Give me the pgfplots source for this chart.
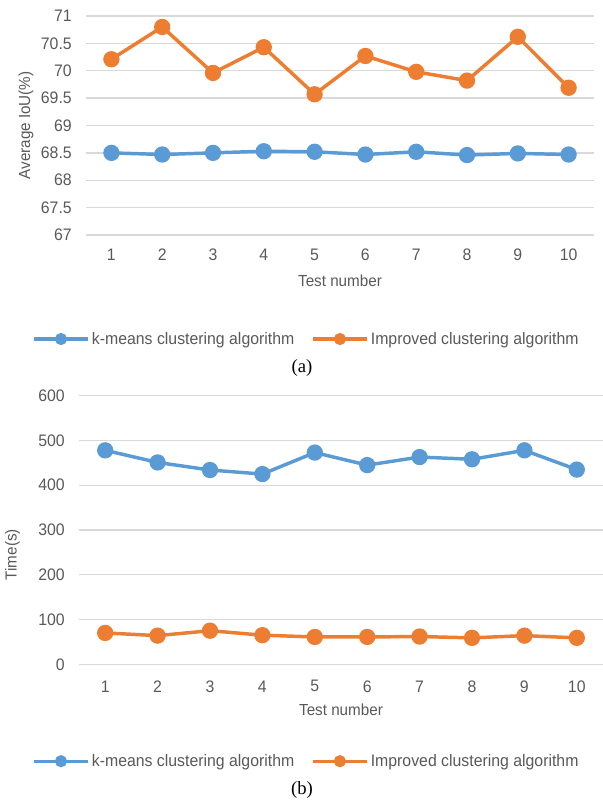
\documentclass[border=0pt]{standalone}
\usepackage{pgfplots}
\pgfplotsset{compat=1.18}
\usepackage{fontspec}
\setmainfont[FakeStretch=0.95]{Liberation Sans}
\newfontfamily\seriffont{Liberation Serif}
\definecolor{kblue}{HTML}{5B9BD5}
\definecolor{korange}{HTML}{ED7D31}
\definecolor{txtgray}{HTML}{595959}
\definecolor{gridgray}{HTML}{D9D9D9}
\pgfplotstableread{
x   km     imp
1   68.50  70.21
2   68.47  70.80
3   68.50  69.96
4   68.53  70.43
5   68.52  69.57
6   68.47  70.27
7   68.52  69.98
8   68.46  69.82
9   68.49  70.62
10  68.47  69.69
}\ioudata
\pgfplotstableread{
x   km    imp
1   478   70
2   451   64
3   434   75
4   425   65
5   473   61
6   445   61
7   463   62
8   458   59
9   478   64
10  435   59
}\timedata
\pgfplotsset{
  mystyle/.style={
    scale only axis,
    clip=false,
    xmin=0.5, xmax=10.5,
    xtick={1,2,...,10},
    axis line style={draw=none},
    major tick length=0pt,
    ymajorgrids,
    grid style={gridgray, line width=1pt},
    /pgf/number format/assume math mode=true,
    tick label style={font=\fontsize{12.5}{14}\selectfont, text=txtgray},
    label style={font=\fontsize{12}{14}\selectfont, text=txtgray},
    yticklabel style={anchor=east, inner sep=0pt, xshift=-10.5pt},
    xticklabel style={anchor=center, inner sep=0pt},
    legend columns=2,
    legend cell align=left,
    legend style={draw=none, fill=none, font=\fontsize{12.5}{14}\selectfont, text=txtgray,
      /tikz/every even column/.append style={column sep=11pt}},
    legend image code/.code={
      \draw[##1, mark=none, line width=2.4pt] (0pt,0pt) -- (40pt,0pt);
      \fill[##1] (20pt,0pt) circle (3.2pt);
    },
  },
  myplot/.style={line width=2.6pt, mark=*, mark size=4.8pt, mark options={solid}},
}
\begin{document}
\begin{tikzpicture}
\path[use as bounding box] (0pt,0pt) rectangle (452.25pt,603pt);
% (a)
\begin{axis}[mystyle,
  at={(64.5pt,426.75pt)}, anchor=south west,
  width=381pt, height=164.25pt,
  ymin=67, ymax=71, ytick={67,67.5,...,71},
  yticklabel style={/pgf/number format/fixed},
  xticklabel style={yshift=-15pt},
  xlabel={Test number},
  ylabel={Average IoU(\%)},
  xlabel style={at={(axis description cs:0.5,-0.21)}, anchor=center},
  ylabel style={at={(axis description cs:-0.118,0.5)}, anchor=center, rotate=0},
  legend style={at={(axis description cs:0.435,-0.475)}, anchor=center},
]
\addplot[color=kblue, myplot] table[x=x, y=km] {\ioudata};
\addlegendentry{k-means clustering algorithm}
\addplot[color=korange, myplot] table[x=x, y=imp] {\ioudata};
\addlegendentry{Improved clustering algorithm}
\end{axis}
\node[font=\seriffont\fontsize{14}{16}\selectfont] at (226.5pt,327pt) {(a)};
% (b)
\begin{axis}[mystyle,
  at={(59.25pt,104.8pt)}, anchor=south west,
  width=393pt, height=201.4pt,
  ymin=0, ymax=600, ytick={0,100,...,600},
  xticklabel style={yshift=-16.5pt},
  xlabel={Test number},
  ylabel={Time(s)},
  xlabel style={at={(axis description cs:0.5,-0.171)}, anchor=center},
  ylabel style={at={(axis description cs:-0.127,0.408)}, anchor=center},
  legend style={at={(axis description cs:0.435,-0.361)}, anchor=center},
]
\addplot[color=kblue, myplot] table[x=x, y=km] {\timedata};
\addlegendentry{k-means clustering algorithm}
\addplot[color=korange, myplot] table[x=x, y=imp] {\timedata};
\addlegendentry{Improved clustering algorithm}
\end{axis}
\node[font=\seriffont\fontsize{14}{16}\selectfont] at (226.5pt,10.5pt) {(b)};
\end{tikzpicture}
\end{document}
